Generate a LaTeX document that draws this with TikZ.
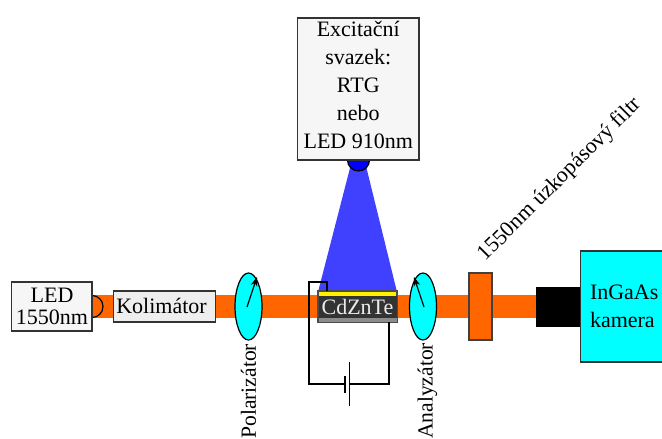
\documentclass[tikz,border=0pt]{standalone}
\usepackage{fontspec}
\setmainfont{Liberation Serif}
\usetikzlibrary{shapes.geometric,arrows.meta}
\definecolor{beam}{HTML}{FF6600}
\definecolor{boxfill}{HTML}{F6F6F6}
\definecolor{kolfill}{HTML}{EEEEEE}
\definecolor{cyanfill}{HTML}{00FFFF}
\definecolor{cone}{HTML}{4040FF}
\definecolor{dark}{HTML}{333333}
\definecolor{edge}{HTML}{333333}
\newlength{\ul}\setlength{\ul}{0.75pt}
\tikzset{
  every node/.style={outer sep=0pt},
  lbl/.style={inner sep=0pt,font=\fontsize{16.5}{21}\selectfont,text=black},
  rot/.style={inner sep=0pt,font=\fontsize{16.2}{21}\selectfont,text=black,rotate=90,anchor=east},
  boxed/.style={draw=edge,line width=0.9pt,inner sep=0pt,anchor=north west},
  polar/.style={ellipse,draw=black,line width=0.9pt,fill=cyanfill,minimum width=27\ul,minimum height=67\ul,inner sep=0pt},
  wire/.style={draw=black,line width=1.2pt,line join=miter},
  needle/.style={-{Stealth[length=7pt,width=5pt]},black,line width=0.9pt},
}
\begin{document}
\begin{tikzpicture}[x=0.75pt,y=-0.75pt]
\useasboundingbox (0,0) rectangle (662,439);
% beam
\fill[beam] (92,295) rectangle (537,318);
% excitation cone
\fill[cone] (350,168) -- (366.5,168) -- (397,292) -- (318,292) -- cycle;
\node[circle,fill=blue,draw=black,line width=0.9pt,minimum size=22\ul,inner sep=0pt] (src) at (358.5,160) {};
% excitation box
\node[boxed,fill=boxfill,minimum width=121.5\ul,minimum height=142\ul] (exc) at (297.5,18) {};
\node[lbl,align=center,anchor=north] (exct) at (358.3,21.5) {Excitační\\svazek:\\RTG\\nebo\\LED 910nm};
% LED
\node[circle,fill=beam,draw=black,line width=0.9pt,minimum size=22\ul,inner sep=0pt] (ledbulb) at (92,306.5) {};
\node[boxed,fill=boxfill,minimum width=80.5\ul,minimum height=49\ul] (led) at (11.5,282) {};
\node[lbl,align=center,font=\fontsize{16.5}{16.5}\selectfont] (ledt) at (52,306) {LED\\1550nm};
% collimator
\node[boxed,fill=kolfill,minimum width=102\ul,minimum height=31\ul] (kol) at (113.5,291) {};
\node[lbl] (kolt) at (161.5,306) {Kolimátor};
% polarizers
\node[polar] (pol) at (248.5,306.5) {};
\coordinate (pola) at (247,307);
\coordinate (polb) at (257,277);
\draw[needle] (pola) -- (polb);
\node[polar] (ana) at (423,306.5) {};
\coordinate (anaa) at (424,307);
\coordinate (anab) at (414,277);
\draw[needle] (anaa) -- (anab);
\node[rot] (polt) at (248.5,344) {Polarizátor};
\node[rot] (anat) at (427.5,343) {Analyzátor};
% sample
\node[draw=black!70,line width=0.9pt,fill=yellow,minimum width=79\ul,minimum height=31\ul,inner sep=0pt,anchor=north west] (samp) at (318,291) {};
\fill[dark] (318.5,295.5) rectangle (396.5,318);
\fill[black!45] (318.5,318) rectangle (396.5,321.5);
\node[lbl,text=white!92!black] (czt) at (357.5,307) {CdZnTe};
% circuit
\coordinate (w0) at (327,291);
\coordinate (w1) at (327,282);
\coordinate (w2) at (309,282);
\coordinate (w3) at (309,384);
\coordinate (ps) at (345,384);
\coordinate (pl) at (349.5,384);
\coordinate (w4) at (389.2,384);
\coordinate (w5) at (389.2,322);
\draw[wire] (w0) -- (w1) -- (w2) -- (w3) -- (ps);
\draw[wire] (pl) -- (w4) -- (w5);
\draw[wire] (345,376) -- (345,393);
\draw[wire] (349.5,362) -- (349.5,406);
% filter
\node[draw=black!75,line width=0.9pt,fill=beam,minimum width=23\ul,minimum height=67\ul,inner sep=0pt,anchor=north west] (fil) at (469,273) {};
\node[lbl,rotate=45,anchor=south west] (filt) at (489,265) {1550nm úzkopásový filtr};
% camera
\fill[black] (536,287) rectangle (581,327);
\node[boxed,fill=cyanfill,minimum width=90\ul,minimum height=111\ul] (cam) at (580.5,251) {};
\node[lbl,align=left,anchor=west] (camt) at (590,306) {InGaAs\\kamera};
\end{tikzpicture}
\end{document}
